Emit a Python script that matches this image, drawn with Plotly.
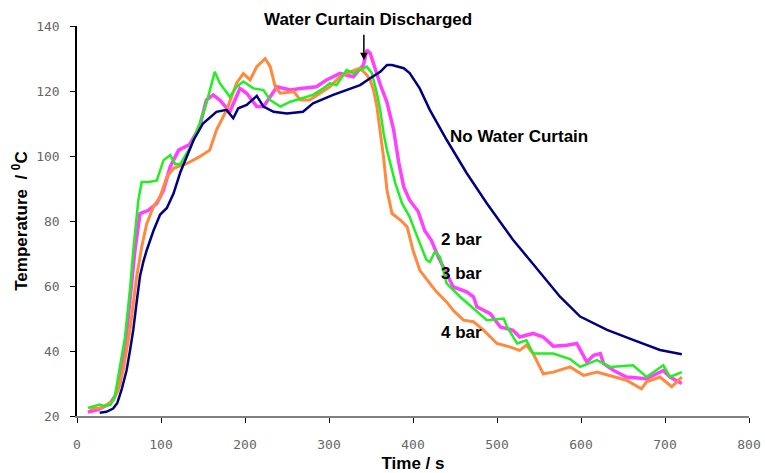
import plotly.graph_objects as go

# ---- data ----
nowc_t = [27, 35, 43, 48, 53, 59, 63, 67, 71, 75, 79, 83, 91, 99, 107, 115, 123, 134, 139, 150,
          166, 178, 186, 192, 202, 214, 222, 234, 250, 269, 281, 305, 321, 337, 349, 361, 369, 375,
          389, 396, 408, 420, 440, 464, 488, 511, 519, 539, 575, 599, 631, 662, 694, 720]
nowc_T = [21, 21.3, 22.3, 24, 28, 34, 40, 46.5, 55, 63, 67.5, 71, 77, 82, 84, 88.5, 95, 102, 105, 110,
          113.6, 114.2, 111.6, 114.7, 115.7, 118.5, 115.2, 113.6, 113.1, 113.6, 116.2, 118.8, 120.3, 121.8, 123.9, 125.9, 128, 128,
          127, 125.5, 120.8, 114.2, 105, 94.7, 85.4, 77.2, 74.2, 68, 56.7, 50.6, 46.5, 43.4, 40.3, 39]

bar2_t = [13, 25, 39, 45, 51, 57, 63, 69, 75, 85,
          95, 103, 111, 121, 134, 146, 154, 162, 170, 182,
          194, 202, 214, 222, 230, 238, 254, 266, 285, 297,
          313, 329, 341, 345, 349, 357, 361, 369, 377, 383,
          389, 396, 406, 414, 422, 430, 438, 448, 464, 472,
          476, 492, 504, 519, 527, 543, 555, 567, 583, 595,
          607, 615, 623, 627, 639, 654, 678, 698, 706, 720]
bar2_T = [21.2, 22, 23.8, 26, 30, 40.2, 55.6, 71, 82.3, 83.3,
          85.4, 89.5, 96.7, 101.8, 103.5, 109, 117.2, 118.8, 117.2, 113.6,
          120.8, 119.3, 115.2, 115.2, 118.2, 121.3, 120.3, 120.8, 121.3, 123.4,
          125.4, 124.4, 128, 132.6, 131.6, 125, 122, 116.5, 108, 98,
          90.5, 86.4, 83, 77, 74, 69, 65, 59.7, 58.2, 56.7,
          53.6, 51.5, 47.4, 46.4, 44.3, 45.4, 44.3, 41.5, 41.8, 42.3,
          36.6, 38.7, 39.2, 36.1, 34, 32, 31.5, 34, 32, 30]

bar3_t = [13, 20, 27, 33, 40, 45, 51, 57, 63, 67,
          73, 77, 86, 95, 103, 111, 117, 123, 135, 146,
          154, 164, 170, 182, 190, 198, 210, 222, 230, 242,
          254, 266, 281, 293, 301, 309, 321, 329, 337, 345,
          351, 357, 361, 365, 369, 373, 379, 387, 396, 402,
          408, 416, 420, 426, 432, 440, 456, 472, 488, 508,
          512, 524, 535, 543, 567, 587, 599, 619, 635, 662,
          678, 698, 706, 720]
bar3_T = [22.5, 23, 23.5, 23, 23.5, 26, 35, 44, 58.7, 71,
          86.4, 92, 92, 92.5, 98.7, 100.3, 97.5, 97.5, 102.8, 110,
          116.2, 125.9, 122.4, 118.2, 121.3, 122.9, 120.8, 120.3, 117.2, 115.2,
          116.7, 117.7, 118.8, 120.8, 122.4, 121.8, 126.5, 125.4, 126.5, 127.5,
          125.5, 119.3, 114.1, 107, 101.8, 97.7, 91.6, 85.4, 81.3, 77.2,
          73, 68, 67.4, 70.5, 69, 60.8, 56.7, 53.1, 49.5, 50,
          47.4, 42.3, 43.3, 39.2, 39.2, 37.5, 35.1, 37.2, 35.1, 35.6,
          32, 35.6, 32, 33.5]

bar4_t = [15, 30, 43, 49, 55, 63, 71, 77, 83, 91,
          99, 107, 115, 131, 146, 158, 166, 178, 190, 198,
          206, 214, 224, 230, 236, 242, 258, 266, 277, 289,
          301, 313, 325, 337, 345, 349, 353, 357, 361, 365,
          369, 375, 385, 393, 400, 408, 420, 428, 440, 448,
          460, 472, 484, 500, 516, 527, 535, 543, 555, 567,
          587, 603, 619, 639, 654, 672, 678, 694, 708, 720]
bar4_T = [22.3, 22.5, 24.8, 28, 34.1, 46.4, 62.8, 72, 79.2, 84.4,
          87.4, 93.6, 96.2, 97.7, 99.8, 101.8, 108, 114.1, 122.4, 125.4,
          123.4, 127.5, 130, 127.5, 121.3, 119.3, 119.8, 117.2, 117.2, 119.3,
          121.3, 124.4, 125.9, 127, 124.9, 123.4, 120.3, 115.2, 107.5, 99.5,
          89.5, 82.3, 80.3, 78.2, 71, 64.9, 60.8, 58.2, 55.1, 52.5,
          49.5, 49, 46.4, 42.3, 41.2, 40.2, 41.8, 39.2, 33, 33.5,
          35.1, 32.5, 33.5, 32, 31, 28.4, 30.5, 32, 29, 32]

x_ticks = [0, 100, 200, 300, 400, 500, 600, 700, 800]
y_ticks = [20, 40, 60, 80, 100, 120, 140]

BOLD = "Liberation Sans"
fig = go.Figure()
fig.add_trace(go.Scatter(x=bar2_t, y=bar2_T, mode="lines", name="2 bar",
                         line=dict(color="#FF40FF", width=3.5)))
fig.add_trace(go.Scatter(x=bar4_t, y=bar4_T, mode="lines", name="4 bar",
                         line=dict(color="#FF8A3D", width=3)))
fig.add_trace(go.Scatter(x=bar3_t, y=bar3_T, mode="lines", name="3 bar",
                         line=dict(color="#22EE22", width=2.5)))
fig.add_trace(go.Scatter(x=nowc_t, y=nowc_T, mode="lines", name="No Water Curtain",
                         line=dict(color="#000080", width=2.5)))

ann_font = dict(family=BOLD, size=17, color="black")
annotations = [
    dict(x=346, xref="x", y=1.0172, yref="paper", text="<b>Water Curtain Discharged</b>",
         showarrow=False, xanchor="center", yanchor="middle", font=ann_font),
    dict(x=341.5, y=129.5, text="", showarrow=True, arrowhead=2, arrowsize=1,
         arrowwidth=1.5, arrowcolor="black", ax=0, ay=-27),
    dict(x=442, y=105.9, text="<b>No Water Curtain</b>", showarrow=False,
         xanchor="left", yanchor="middle", font=ann_font),
    dict(x=431, y=74.3, text="<b>2 bar</b>", showarrow=False,
         xanchor="left", yanchor="middle", font=ann_font),
    dict(x=431, y=64, text="<b>3 bar</b>", showarrow=False,
         xanchor="left", yanchor="middle", font=ann_font),
    dict(x=431, y=45.6, text="<b>4 bar</b>", showarrow=False,
         xanchor="left", yanchor="middle", font=ann_font),
]

tickfont = dict(family="DejaVu Sans Mono", size=13, color="#666666")
fig.update_layout(
    width=765, height=473,
    margin=dict(l=77, r=15.7, t=26, b=57.3),
    paper_bgcolor="white", plot_bgcolor="white",
    showlegend=False,
    annotations=annotations,
    xaxis=dict(range=[0, 800], tickvals=x_ticks, showgrid=False, zeroline=False,
               automargin=False,
               showline=True, linecolor="#808080", linewidth=1.5,
               ticks="outside", ticklen=5, tickcolor="black", tickwidth=1,
               tickfont=tickfont, ticklabelstandoff=11,
               title=dict(text="<b>Time / s</b>", font=ann_font, standoff=14)),
    yaxis=dict(range=[20, 140], tickvals=y_ticks, showgrid=False, zeroline=False,
               automargin=False,
               showline=True, linecolor="black", linewidth=1.5,
               ticks="outside", ticklen=5, tickcolor="black", tickwidth=1,
               tickfont=tickfont, ticklabelstandoff=8,
               title=dict(text="<b>Temperature  / <sup>0</sup>C</b>", font=ann_font, standoff=4)),
)

fig.write_html("out.html")
